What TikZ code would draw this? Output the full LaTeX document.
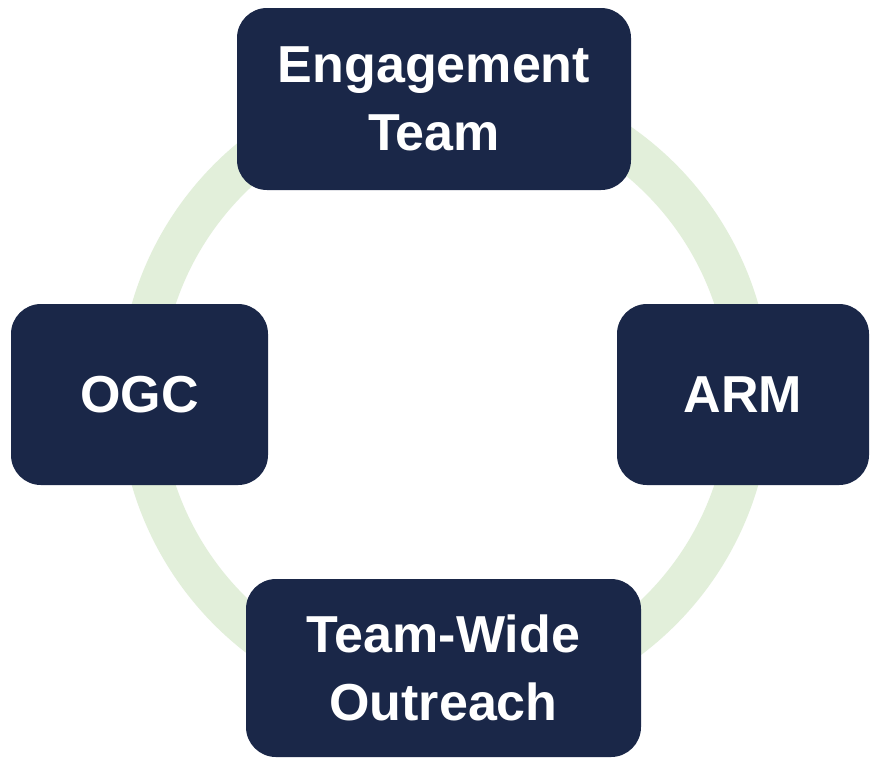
\documentclass[tikz,border=0pt]{standalone}
\usepackage{fontspec}
\setmainfont{Liberation Sans}
\definecolor{navy}{HTML}{1A2748}
\definecolor{ringgreen}{HTML}{E2EFDA}
\begin{document}
\begin{tikzpicture}[x=0.75pt,y=-0.75pt,
  teambox/.style={draw=none,fill=navy,rounded corners=22.5pt,text=white,
    font=\fontsize{39pt}{51pt}\selectfont\bfseries,align=center,inner sep=0pt},
  ring/.style={draw=ringgreen,line width=31.5pt}]
\useasboundingbox (0,0) rectangle (870,758);
\fill[white] (0,0) rectangle (870,758);
\coordinate (c) at (445,394.5);
\draw[ring] (c) circle[radius=228.75pt];
\node[teambox,minimum width=295.5pt,minimum height=136.5pt] (eng) at (434,99) {Engagement\\Team};
\node[teambox,minimum width=192.75pt,minimum height=135.75pt] (ogc) at (139.5,394.5) {OGC};
\node[teambox,minimum width=189pt,minimum height=135.75pt] (arm) at (743,394.5) {ARM};
\node[teambox,minimum width=296.25pt,minimum height=133.5pt] (out) at (443.5,668) {Team-Wide\\Outreach};
\end{tikzpicture}
\end{document}
